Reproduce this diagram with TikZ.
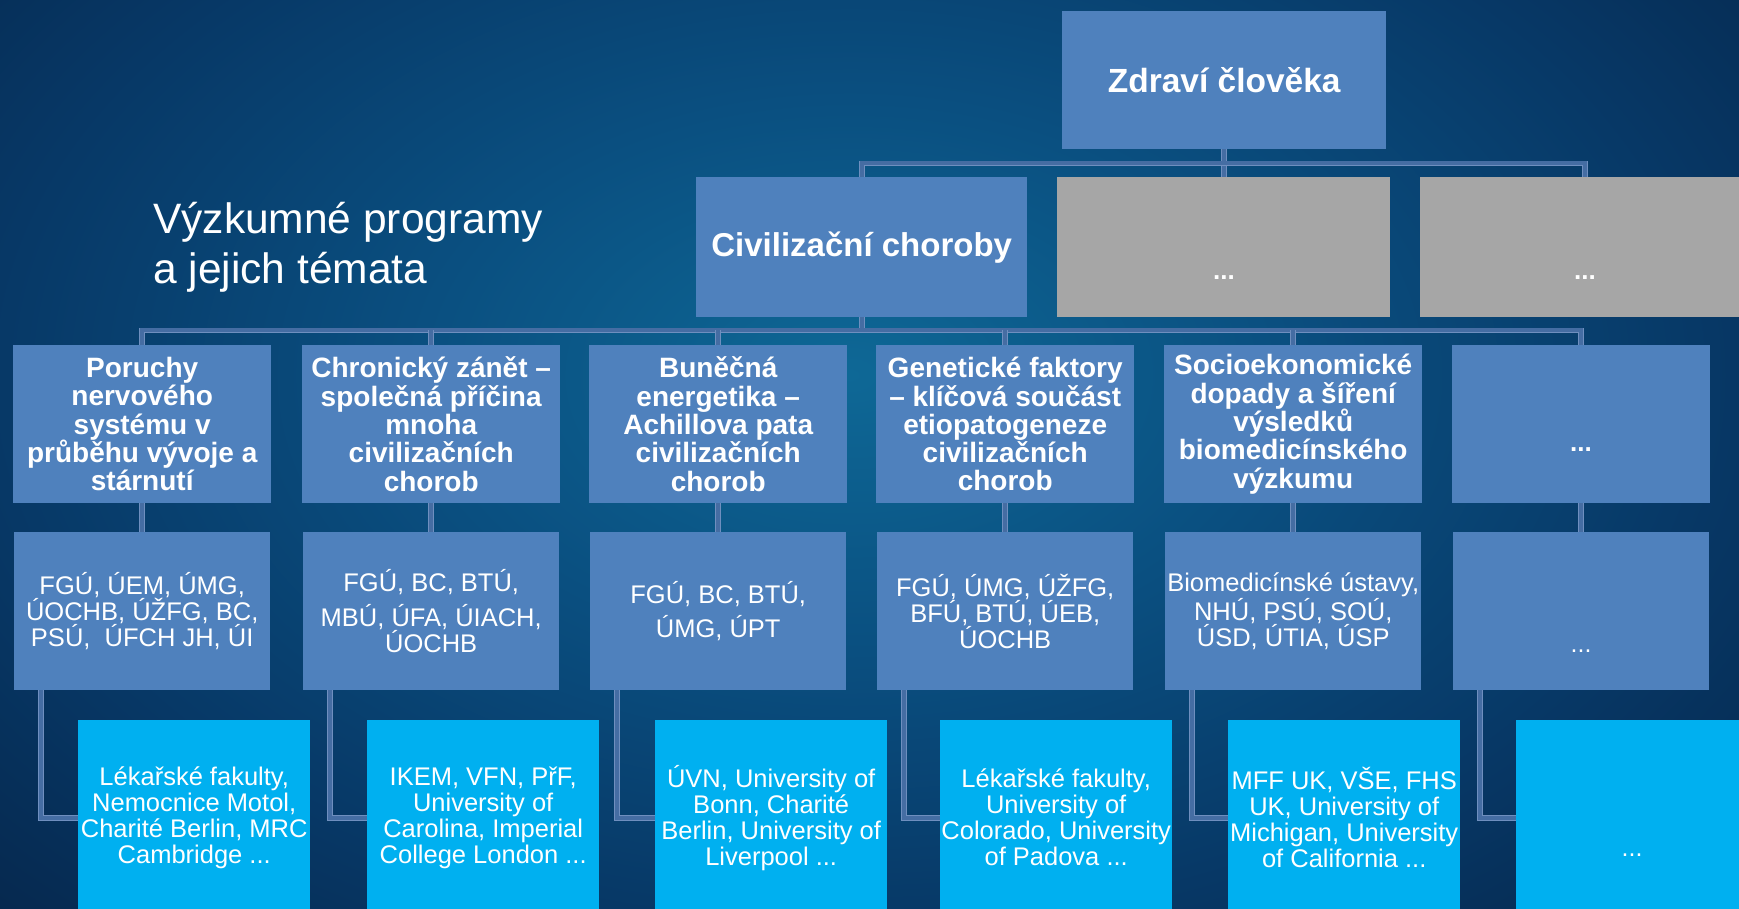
\documentclass[tikz,border=0pt]{standalone}
\usepackage{fontspec}
\setmainfont{Liberation Sans}
\usetikzlibrary{calc}
\definecolor{boxblue}{HTML}{4F81BD}
\definecolor{cyanbox}{HTML}{00B0F0}
\definecolor{graybox}{HTML}{A6A6A6}
\definecolor{connA}{HTML}{456DA3}
\definecolor{connB}{HTML}{6F8FBF}
\definecolor{bgA}{HTML}{0E6896}
\definecolor{bgB}{HTML}{0A4F80}
\definecolor{bgC}{HTML}{073866}
\definecolor{bgE}{HTML}{052448}
\definecolor{bgD}{HTML}{03142B}
\pgfdeclareradialshading{bgshade}{\pgfpoint{0bp}{0bp}}{color(0bp)=(bgA); color(12bp)=(bgB); color(24bp)=(bgC); color(36bp)=(bgE); color(50bp)=(bgD)}
\tikzset{
  box/.style={fill=boxblue, text=white, inner sep=0pt, align=center, anchor=north west},
  greybox/.style={fill=graybox, inner sep=0pt, anchor=north west},
  topic/.style={box, minimum width=258pt, minimum height=158pt, font=\bfseries\fontsize{28}{28.3}\selectfont},
  inst/.style={box, minimum width=256pt, minimum height=158pt, font=\fontsize{25.5}{25.8}\selectfont},
  part/.style={fill=cyanbox, text=white, inner sep=0pt, align=center, anchor=north west, minimum width=232pt, minimum height=195pt, font=\fontsize{25.5}{26}\selectfont},
  title/.style={text=white, inner sep=0pt, anchor=base west, font=\fontsize{42.5}{50}\selectfont},
  dotsb/.style={text=white, inner sep=0pt, anchor=base, font=\bfseries\fontsize{26}{26}\selectfont},
  dotsr/.style={text=white, inner sep=0pt, anchor=base, font=\fontsize{25}{25}\selectfont},
  conn/.style={draw=connB, line width=0.8pt, double=connA, double distance=4pt}
}
\begin{document}
\begin{tikzpicture}[x=1pt,y=-1pt]
\useasboundingbox (0,0) rectangle (1739,908);
\clip (0,0) rectangle (1739,908);
\fill[bgD] (0,0) rectangle (1739,908);
\shade[shading=bgshade] (-50,-200) rectangle (1750,950);

% title
\node[title] (ttl1) at (153,233) {Výzkumné programy};
\node[title] (ttl2) at (153,283) {a jejich témata};

% level 1
\node[box, minimum width=324pt, minimum height=138pt, font=\bfseries\fontsize{33.5}{40}\selectfont] (top) at (1062,11) {Zdraví člověka};

% level 2
\node[box, minimum width=331pt, minimum height=140pt, font=\bfseries\fontsize{33}{40}\selectfont] (civ) at (696,177) {Civilizační choroby};
\node[greybox, minimum width=333pt, minimum height=140pt] (g1) at (1057,177) {};
\node[greybox, minimum width=330pt, minimum height=140pt] (g2) at (1420,177) {};
\node[dotsb] (g1t) at (1224,279) {...};
\node[dotsb] (g2t) at (1585,279) {...};

% level 3
\node[topic] (t1) at (13,345) {Poruchy\\nervového\\systému v\\průběhu vývoje a\\stárnutí};
\node[topic] (t2) at (302,345) {Chronický zánět –\\společná příčina\\mnoha\\civilizačních\\chorob};
\node[topic] (t3) at (589,345) {Buněčná\\energetika –\\Achillova pata\\civilizačních\\chorob};
\node[topic] (t4) at (876,345) {Genetické faktory\\– klíčová součást\\etiopatogeneze\\civilizačních\\chorob};
\node[topic] (t5) at (1164,345) {Socioekonomické\\dopady a šíření\\výsledků\\biomedicínského\\výzkumu};
\node[topic] (t6) at (1452,345) {};
\node[dotsb] (t6t) at (1581,451) {...};

% level 4
\node[inst] (i1) at (14,532) {FGÚ, ÚEM, ÚMG,\\ÚOCHB, ÚŽFG, BC,\\PSÚ,\ \ ÚFCH JH, ÚI};
\node[inst] (i2) at (303,532) {FGÚ, BC, BTÚ,\\[9pt]MBÚ, ÚFA, ÚIACH,\\ÚOCHB};
\node[inst] (i3) at (590,532) {FGÚ, BC, BTÚ,\\[8.5pt]ÚMG, ÚPT};
\node[inst] (i4) at (877,532) {FGÚ, ÚMG, ÚŽFG,\\BFÚ, BTÚ, ÚEB,\\ÚOCHB};
\node[inst] (i5) at (1165,532) {Biomedicínské ústavy,\\NHÚ, PSÚ, SOÚ,\\ÚSD, ÚTIA, ÚSP};
\node[inst] (i6) at (1453,532) {};
\node[dotsr] (i6t) at (1581,652) {...};

% level 5
\node[part] (c1) at (78,720) {Lékařské fakulty,\\Nemocnice Motol,\\Charité Berlin, MRC\\Cambridge ...};
\node[part] (c2) at (367,720) {IKEM, VFN, PřF,\\University of\\Carolina, Imperial\\College London ...};
\node[part] (c3) at (655,720) {ÚVN, University of\\Bonn, Charité\\Berlin, University of\\Liverpool ...};
\node[part] (c4) at (940,720) {Lékařské fakulty,\\University of\\Colorado, University\\of Padova ...};
\node[part] (c5) at (1228,720) {MFF UK, VŠE, FHS\\UK, University of\\Michigan, University\\of California ...};
\node[part] (c6) at (1516,720) {};
\node[dotsr] (c6t) at (1632,856) {...};

% connectors
\coordinate (h1) at ($(top.south)+(0,14)$);
\draw[conn] (top.south) -- (top.south |- g1.north);
\draw[conn] (civ.north) |- (h1) -| (g2.north);
\coordinate (h2) at ($(civ.south)+(0,13)$);
\draw[conn] (civ.south) -- (h2);
\draw[conn] (t1.north) |- (h2) -| (t6.north);
\foreach \n in {t2,t3,t4,t5} \draw[conn] (\n.north) -- (\n.north |- h2);
\foreach \n in {1,...,6} \draw[conn] (t\n.south) -- (i\n.north);
\foreach \n in {1,...,6} \draw[conn] ([xshift=27pt]i\n.south west) |- (c\n.west);
\end{tikzpicture}
\end{document}
